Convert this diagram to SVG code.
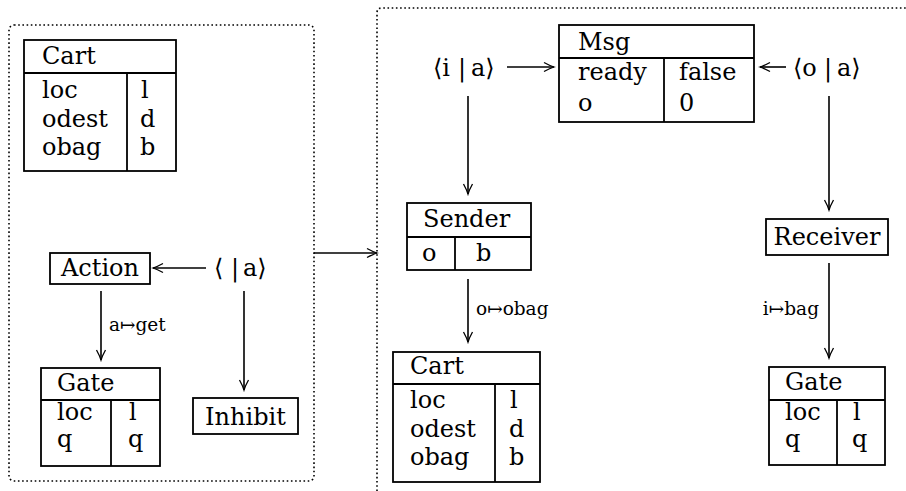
<svg xmlns="http://www.w3.org/2000/svg" width="906" height="491" viewBox="0 0 906 491">
<style>
text{font-family:"DejaVu Serif","Liberation Serif",serif;font-size:24px;fill:#000}
.lbl{font-size:18.5px}
.mid{text-anchor:middle}
.end{text-anchor:end}
.box{fill:#fff;stroke:#000;stroke-width:1.8}
.ln{stroke:#000;stroke-width:1.8;fill:none}
.cn{stroke:#000;stroke-width:1.6;fill:none}
.dot{fill:none;stroke:#000;stroke-width:1.6;stroke-dasharray:1.6 2.6}
</style>
<defs>
<marker id="ah" viewBox="-12 -6 14 12" refX="0" refY="0" markerWidth="14" markerHeight="12" orient="auto" markerUnits="userSpaceOnUse">
<path d="M-10,-4.5 Q-4,-1.2 0,0 Q-4,1.2 -10,4.5" fill="none" stroke="#000" stroke-width="1.3"/>
</marker>
</defs>

<g id="containers">
<rect class="dot" x="9" y="25" width="305" height="456" rx="5"/>
<path class="dot" d="M377,491 V13 Q377,8 382,8 H906"/>
</g>

<g id="cart1">
<rect class="box" x="24" y="40" width="152" height="131"/>
<line class="ln" x1="24" y1="73" x2="176" y2="73"/>
<line class="ln" x1="127" y1="73" x2="127" y2="171"/>
<text x="42" y="64">Cart</text>
<text x="42" y="98">loc</text>
<text x="42" y="127">odest</text>
<text x="42" y="155">obag</text>
<text x="141" y="98">l</text>
<text x="140" y="127">d</text>
<text x="140" y="155">b</text>
</g>

<g id="action">
<rect class="box" x="50" y="253" width="100" height="31"/>
<text class="mid" x="100" y="276">Action</text>
</g>

<g id="port1">
<text y="276"><tspan x="214">⟨</tspan><tspan x="231">|</tspan><tspan x="243">a⟩</tspan></text>
</g>

<g id="gate1">
<rect class="box" x="41" y="368" width="119" height="98"/>
<line class="ln" x1="41" y1="400" x2="160" y2="400"/>
<line class="ln" x1="111" y1="400" x2="111" y2="466"/>
<text x="57" y="391">Gate</text>
<text x="57" y="420">loc</text>
<text x="57" y="447">q</text>
<text x="129" y="420">l</text>
<text x="128" y="447">q</text>
</g>

<g id="inhibit">
<rect class="box" x="193" y="398" width="105" height="36"/>
<text class="mid" x="245.5" y="425">Inhibit</text>
</g>

<g id="port2">
<text y="76"><tspan x="433">⟨i</tspan><tspan x="458">|</tspan><tspan x="471">a⟩</tspan></text>
</g>

<g id="msg">
<rect class="box" x="559" y="25" width="195" height="97"/>
<line class="ln" x1="559" y1="58" x2="754" y2="58"/>
<line class="ln" x1="664" y1="58" x2="664" y2="122"/>
<text x="578" y="50">Msg</text>
<text x="578" y="80">ready</text>
<text x="578" y="111">o</text>
<text x="679" y="80">false</text>
<text x="679" y="111">0</text>
</g>

<g id="port3">
<text y="76"><tspan x="793">⟨o</tspan><tspan x="824">|</tspan><tspan x="837">a⟩</tspan></text>
</g>

<g id="sender">
<rect class="box" x="407" y="203" width="124" height="67"/>
<line class="ln" x1="407" y1="237" x2="531" y2="237"/>
<line class="ln" x1="455" y1="237" x2="455" y2="270"/>
<text x="423" y="227">Sender</text>
<text x="422" y="261">o</text>
<text x="476" y="261">b</text>
</g>

<g id="cart2">
<rect class="box" x="393" y="352" width="147" height="130"/>
<line class="ln" x1="393" y1="384" x2="540" y2="384"/>
<line class="ln" x1="495" y1="384" x2="495" y2="482"/>
<text x="410" y="374">Cart</text>
<text x="410" y="408">loc</text>
<text x="410" y="437">odest</text>
<text x="410" y="465">obag</text>
<text x="510" y="408">l</text>
<text x="509" y="437">d</text>
<text x="509" y="465">b</text>
</g>

<g id="receiver">
<rect class="box" x="766" y="219" width="122" height="36"/>
<text class="mid" x="827" y="245">Receiver</text>
</g>

<g id="gate2">
<rect class="box" x="769" y="367" width="116" height="98"/>
<line class="ln" x1="769" y1="400" x2="885" y2="400"/>
<line class="ln" x1="837" y1="400" x2="837" y2="465"/>
<text x="785" y="390">Gate</text>
<text x="785" y="420">loc</text>
<text x="785" y="447">q</text>
<text x="853" y="420">l</text>
<text x="852" y="447">q</text>
</g>

<g id="connectors">
<line class="cn" x1="206" y1="268" x2="153" y2="268" marker-end="url(#ah)"/>
<line class="cn" x1="101" y1="291" x2="101" y2="360" marker-end="url(#ah)"/>
<text class="lbl" x="109" y="331">a↦get</text>
<line class="cn" x1="244" y1="291" x2="244" y2="390" marker-end="url(#ah)"/>
<line class="cn" x1="314" y1="253" x2="377" y2="253" marker-end="url(#ah)"/>
<line class="cn" x1="507" y1="67" x2="554" y2="67" marker-end="url(#ah)"/>
<line class="cn" x1="786" y1="67" x2="760" y2="67" marker-end="url(#ah)"/>
<line class="cn" x1="468" y1="96" x2="468" y2="194" marker-end="url(#ah)"/>
<line class="cn" x1="829" y1="96" x2="829" y2="210" marker-end="url(#ah)"/>
<line class="cn" x1="468" y1="279" x2="468" y2="342" marker-end="url(#ah)"/>
<text class="lbl" x="476" y="315">o↦obag</text>
<line class="cn" x1="829" y1="263" x2="829" y2="358" marker-end="url(#ah)"/>
<text class="lbl end" x="819" y="315">i↦bag</text>
</g>
</svg>
